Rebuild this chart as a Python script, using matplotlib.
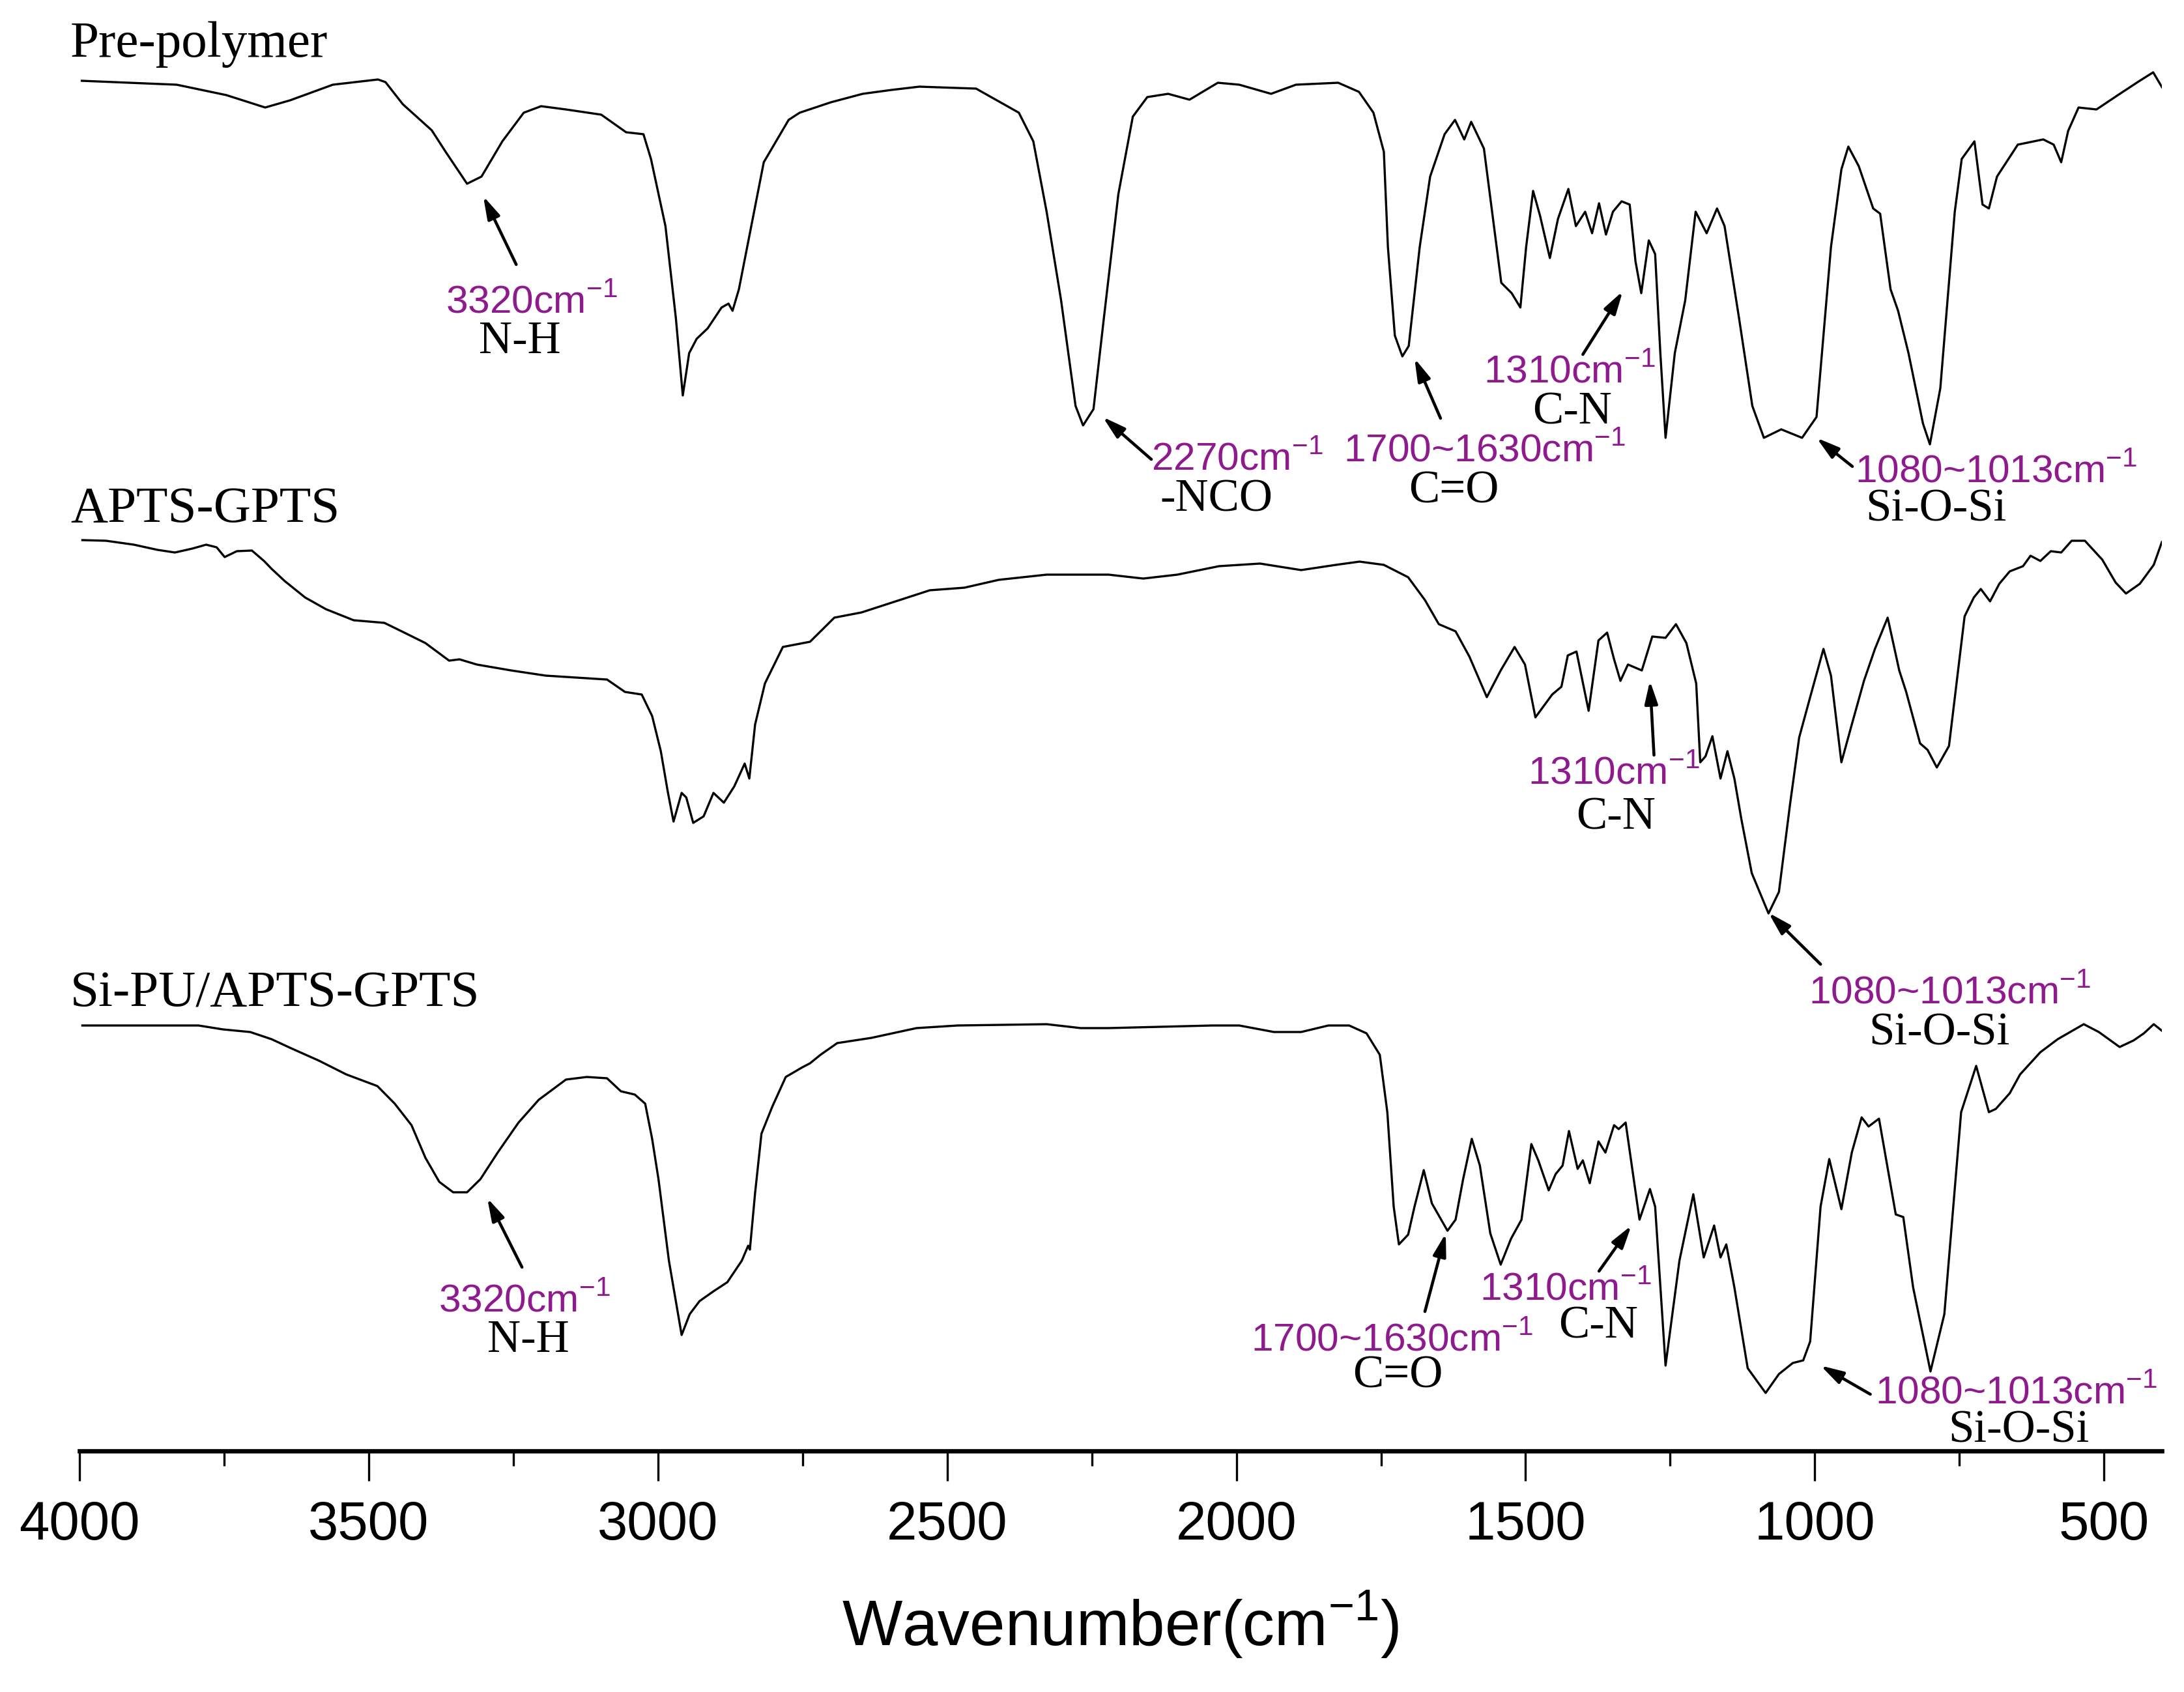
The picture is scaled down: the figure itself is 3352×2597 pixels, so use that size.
import matplotlib
matplotlib.use('Agg')
from matplotlib import pyplot as plt
from matplotlib.ticker import MultipleLocator

plt.rcParams['font.family'] = ['Liberation Sans', 'DejaVu Sans']
plt.rcParams['mathtext.fontset'] = 'custom'
plt.rcParams['mathtext.rm'] = 'Liberation Sans'

# FTIR spectra (wavenumber in cm-1, transmittance in a.u.)
prepoly_wn = [3996, 3832, 3746, 3679, 3636, 3562, 3484, 3471, 3441, 3391, 3367, 3330, 3305, 3269,
              3232, 3202, 3159, 3098, 3055, 3025, 3012, 2987, 2969, 2957, 2946, 2933, 2914, 2890,
              2878, 2871, 2860, 2841, 2817, 2774, 2755, 2701, 2646, 2596, 2548, 2450, 2376, 2351,
              2328, 2303, 2278, 2265, 2247, 2229, 2204, 2179, 2154, 2118, 2081, 2032, 1995, 1940,
              1897, 1824, 1788, 1763, 1745, 1738, 1726, 1713, 1702, 1683, 1665, 1640, 1622, 1606,
              1594, 1572, 1554, 1542, 1524, 1509, 1499, 1487, 1475, 1458, 1444, 1426, 1413, 1397,
              1385, 1373, 1361, 1349, 1334, 1320, 1310, 1300, 1287, 1276, 1267, 1258, 1242, 1224,
              1206, 1187, 1169, 1156, 1131, 1108, 1088, 1058, 1022, 997, 972, 954, 942, 924, 899,
              887, 869, 856, 838, 813, 801, 783, 758, 746, 724, 710, 699, 685, 649, 605, 587, 574,
              562, 544, 513, 476, 440, 415, 397]
prepoly_t = [576, 570, 554, 535, 546, 570, 578, 574, 540, 500, 467, 418, 429, 483,
             527, 537, 532, 524, 497, 494, 456, 353, 212, 93, 158, 180, 196, 228,
             234, 223, 256, 342, 451, 516, 527, 543, 556, 562, 567, 564, 527, 483,
             375, 239, 77, 47, 72, 212, 402, 521, 551, 556, 547, 573, 570, 556,
             570, 573, 559, 527, 467, 321, 185, 153, 169, 321, 429, 494, 516, 486,
             513, 472, 348, 266, 250, 228, 321, 407, 369, 304, 364, 410, 353, 375,
             342, 388, 340, 375, 391, 386, 299, 250, 331, 310, 158, 28, 158, 239,
             375, 342, 380, 353, 212, 77, 28, 41, 28, 60, 321, 440, 475, 445, 380,
             372, 256, 223, 158, 50, 18, 104, 375, 456, 483, 386, 380, 429, 478, 486, 478, 451,
             499, 535, 532, 554, 575, 589, 562]

apts_wn = [3995, 3954, 3906, 3865, 3835, 3805, 3781, 3763, 3749, 3728, 3702, 3681, 3668, 3645,
           3610, 3574, 3526, 3473, 3443, 3402, 3361, 3343, 3313, 3254, 3194, 3123, 3088, 3057,
           3028, 3010, 2995, 2983, 2973, 2959, 2951, 2939, 2921, 2904, 2886, 2868, 2850, 2842,
           2832, 2815, 2784, 2737, 2695, 2648, 2589, 2530, 2470, 2411, 2328, 2221, 2161, 2102,
           2030, 1959, 1888, 1828, 1787, 1745, 1703, 1674, 1650, 1621, 1597, 1567, 1543, 1519,
           1501, 1483, 1454, 1438, 1427, 1412, 1391, 1374, 1359, 1347, 1336, 1323, 1299, 1281,
           1258, 1240, 1222, 1205, 1198, 1189, 1177, 1163, 1151, 1139, 1127, 1109, 1080, 1062,
           1043, 1027, 1008, 985, 972, 954, 936, 915, 896, 874, 854, 842, 818, 805, 789, 768,
           741, 725, 713, 697, 681, 663, 640, 627, 610, 592, 574, 556, 533, 503, 480, 462, 438,
           414, 400]
apts_t = [591, 590, 584, 576, 572, 578, 584, 580, 565, 574, 575, 559, 547, 528,
          503, 485, 468, 464, 451, 433, 406, 408, 400, 391, 383, 379, 377, 358,
          354, 321, 267, 205, 159, 203, 196, 157, 167, 203, 188, 213, 248, 225,
          308, 371, 427, 435, 472, 480, 497, 514, 518, 530, 538, 538, 532, 538,
          551, 555, 545, 553, 558, 553, 534, 499, 462, 451, 412, 350, 391, 427,
          400, 319, 354, 366, 414, 420, 329, 437, 449, 408, 375, 400, 391, 443,
          441, 462, 433, 371, 250, 259, 290, 225, 267, 225, 163, 80, 18, 51,
          184, 288, 350, 424, 383, 250, 308, 375, 424, 472, 391, 358, 279, 269, 242, 275,
          474, 503, 516, 497, 524, 543, 551, 567, 559, 574, 572, 590, 590, 561, 526, 509, 524,
          553, 588]

sipu_wn = [3995, 3794, 3752, 3705, 3668, 3634, 3586, 3539, 3485, 3455, 3426, 3402, 3378, 3354,
           3330, 3307, 3277, 3241, 3206, 3159, 3123, 3088, 3064, 3040, 3022, 3010, 2999, 2981,
           2959, 2945, 2928, 2904, 2880, 2855, 2844, 2841, 2832, 2821, 2802, 2779, 2750, 2737,
           2719, 2690, 2631, 2553, 2482, 2328, 2269, 2221, 2042, 1995, 1935, 1888, 1841, 1805,
           1775, 1752, 1739, 1728, 1719, 1703, 1692, 1676, 1662, 1635, 1621, 1608, 1593, 1579,
           1561, 1543, 1525, 1507, 1490, 1478, 1460, 1448, 1436, 1425, 1410, 1401, 1389, 1374,
           1362, 1347, 1339, 1327, 1313, 1303, 1285, 1276, 1258, 1234, 1210, 1192, 1174, 1163,
           1153, 1139, 1116, 1085, 1062, 1038, 1020, 1008, 990, 975, 954, 936, 919, 907, 889,
           860, 847, 830, 800, 776, 747, 721, 699, 687, 663, 645, 610, 580, 535, 509, 473, 449,
           431, 414, 400]
sipu_t = [576, 576, 570, 566, 555, 541, 522, 501, 483, 456, 423, 373, 336, 320,
          320, 340, 381, 427, 462, 493, 497, 495, 475, 470, 456, 402, 340, 215,
          101, 133, 153, 168, 182, 215, 238, 232, 319, 410, 452, 497, 512, 518,
          531, 549, 557, 572, 576, 578, 572, 572, 576, 576, 566, 566, 576, 576,
          564, 531, 443, 298, 240, 255, 298, 354, 303, 261, 278, 340, 402, 361,
          257, 209, 249, 278, 394, 369, 323, 348, 361, 414, 356, 369, 334, 398,
          381, 423, 417, 427, 340, 278, 325, 298, 54, 215, 317, 220, 269, 220,
          240, 174, 50, 12, 41, 58, 62, 91, 298, 371, 294, 381, 435, 421, 433,
          286, 282, 174, 45, 133, 443, 514, 443, 448, 472, 501, 535, 555, 578, 566, 543, 553,
          564, 578, 568]

sample_names = ['Pre-polymer', 'APTS-GPTS', 'Si-PU/APTS-GPTS']
offsets = [1897, 1177, 447]
name_y = [2510, 1796, 1052]

# peak labels: (band text, group, text x, text y, group x, group y, arrow head, arrow tail)
peaks = [
    ('3320', 'N-H', 3367, 2117, 3309, 2055, (3302, 2296), (3245, 2191)),
    ('2270', '-NCO', 2147, 1876, 2132, 1812, (2231, 1957), (2147, 1892)),
    ('1700~1630', 'C=O', 1815, 1889, 1702, 1825, (1692, 2047), (1647, 1955)),
    ('1310', 'C-N', 1573, 2010, 1488, 1946, (1332, 2150), (1401, 2053)),
    ('1080~1013', 'Si-O-Si', 930, 1857, 912, 1797, (997, 1925), (935, 1881)),
    ('1310', 'C-N', 1496, 1394, 1412, 1324, (1285, 1552), (1278, 1438)),
    ('1080~1013', 'Si-O-Si', 1011, 1057, 907, 993, (1080, 1196), (990, 1117)),
    ('3320', 'N-H', 3379, 584, 3295, 522, (3295, 758), (3235, 652)),
    ('1700~1630', 'C=O', 1975, 524, 1799, 468, (1638, 704), (1674, 584)),
    ('1310', 'C-N', 1579, 602, 1443, 544, (1317, 716), (1373, 646)),
    ('1080~1013', 'Si-O-Si', 896, 443, 769, 384, (990, 501), (904, 457)),
]

W, H = 3353, 2597
fig = plt.figure(figsize=(W / 300, H / 300), dpi=300)
ax = fig.add_axes([122 / W, 1 - 2227 / H, 3196 / W, 2227 / H])

spectra = [(prepoly_wn, prepoly_t), (apts_wn, apts_t), (sipu_wn, sipu_t)]
for (wn, t), off, name, ny in zip(spectra, offsets, sample_names, name_y):
    ax.plot(wn, [v + off for v in t], color='black', lw=0.8)
    ax.text(4016, ny, name, family=['Liberation Serif', 'DejaVu Serif'], fontsize=19,
            ha='left', va='baseline')

purple = '#8E1A8E'
for band, grp, tx, ty, gx, gy, head, tail in peaks:
    ax.text(tx, ty, band + r'cm$^{\mathregular{-1}}$', color=purple, fontsize=14.5,
            ha='left', va='baseline')
    ax.text(gx, gy, grp, family=['Liberation Serif', 'DejaVu Serif'], fontsize=17,
            ha='left', va='baseline')
    ax.annotate('', xy=head, xytext=tail,
                arrowprops=dict(arrowstyle='-|>,head_length=0.7,head_width=0.2',
                                color='black', lw=1.1, shrinkA=0, shrinkB=0,
                                mutation_scale=10))

ax.set_xlim(4000, 400)
ax.set_ylim(370, 2597)
for s in ['top', 'left', 'right']:
    ax.spines[s].set_visible(False)
ax.spines['bottom'].set_linewidth(1.6)
ax.set_yticks([])
ax.xaxis.set_major_locator(MultipleLocator(500))
ax.xaxis.set_minor_locator(MultipleLocator(250))
ax.tick_params(axis='x', which='major', direction='out', length=11, width=0.8,
               labelsize=20, pad=7)
ax.tick_params(axis='x', which='minor', direction='out', length=5.5, width=0.8)
ax.set_xlabel(r'Wavenumber(cm$^{\mathregular{-1}}$)', fontsize=23.5, labelpad=14)
ax.patch.set_alpha(0)

fig.savefig('out.png', dpi=300)
